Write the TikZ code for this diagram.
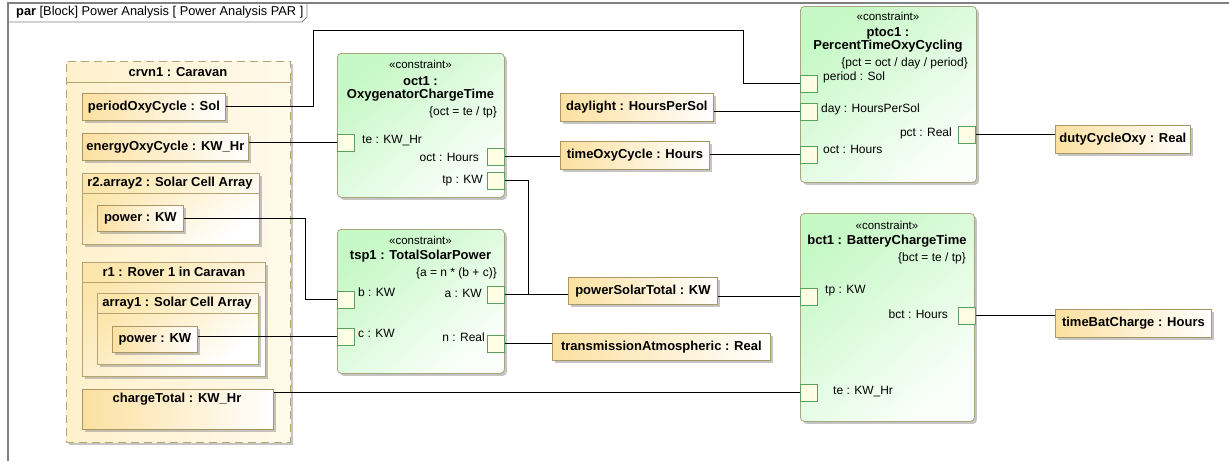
\documentclass[tikz,border=0pt]{standalone}
\usepackage{fontspec}
\setmainfont{Liberation Sans}
\usetikzlibrary{calc}
\usetikzlibrary{shadows}

\definecolor{valfill}{HTML}{FCE0A0}
\definecolor{valline}{HTML}{A89868}
\definecolor{confill}{HTML}{C6F8C6}
\definecolor{conline}{HTML}{A8A47C}
\definecolor{portfill}{HTML}{FFFDE4}
\definecolor{portline}{HTML}{5E9E5E}
\definecolor{partfill}{HTML}{FCE6AC}
\definecolor{caravanfill}{HTML}{FFF1CC}
\definecolor{partline}{HTML}{B4A474}
\definecolor{framegray}{HTML}{808080}

\begin{document}
\begin{tikzpicture}[x=1pt,y=-1pt,
    wire/.style={black,line width=0.9pt},
    plain/.style={font=\fontsize{12}{14}\selectfont,inner sep=0pt},
    bold/.style={font=\fontsize{13}{15}\selectfont\bfseries,inner sep=0pt},
    stereo/.style={font=\fontsize{11.5}{13}\selectfont,inner sep=0pt},
    shade/.style={drop shadow={shadow xshift=2.5pt,shadow yshift=-2.5pt,fill=black!45,opacity=0.5}},
    valbox/.style={shade,draw=valline,line width=0.8pt,left color=valfill,right color=white,
        anchor=north west,inner sep=0pt,font=\fontsize{13}{15}\selectfont\bfseries},
    partbox/.style={shade,draw=partline,line width=0.8pt,top color=partfill,bottom color=white,
        shading angle=40,anchor=north west,inner sep=0pt},
    conblock/.style={shade,draw=conline,line width=0.8pt,rounded corners=4pt,
        top color=confill,bottom color=white!92!confill,shading angle=40,
        anchor=north west,inner sep=0pt},
    port/.style={draw=portline,fill=portfill,line width=0.8pt,anchor=north west,
        minimum size=17pt,inner sep=0pt},
]
\useasboundingbox (0,0) rectangle (1229,461);

\newcommand{\portbox}[3]{
    \node[port] (#1) at (#2,#3) {};
}

\newcommand{\portlabel}[5]{
    \node[plain,anchor=#2] (#1) at (#3,#4) {#5};
}

% bends of the connectors
\coordinate (pa) at (313,30);
\coordinate (pb) at (743,30);
\coordinate (r2bend) at (305,0);
\coordinate (tpbend) at (528,0);

% diagram frame
\draw[framegray,line width=1.2pt] (8,461) -- (8,3) -- (1229,3);
\draw[framegray,line width=0.9pt] (8,22) -- (302,22) -- (307,17) -- (307,3);
\node[plain,anchor=west,font=\fontsize{12.8}{14}\selectfont] (title) at (16,12.5) {\textbf{par} [Block] Power Analysis [ Power Analysis PAR ]};

% caravan part with its nested parts
\node[shade,draw=partline,line width=0.8pt,dash pattern=on 8pt off 5pt,left color=caravanfill,right color=caravanfill!40,
    anchor=north west,inner sep=0pt,minimum width=224pt,minimum height=381pt] (crvn) at (66,61) {};
\draw[partline,line width=0.8pt] ([yshift=-21pt]crvn.north west) -- ([yshift=-21pt]crvn.north east);
\node[bold] (crvnName) at (178,72) {crvn1 : Caravan};

\node[valbox,minimum width=143pt,minimum height=27pt] (periodOxy) at (82,93) {periodOxyCycle : Sol};
\node[valbox,minimum width=166pt,minimum height=27pt] (energyOxy) at (82,133) {energyOxyCycle : KW\_Hr};

\node[partbox,minimum width=177pt,minimum height=71pt] (r2) at (82,173) {};
\draw[partline,line width=0.8pt] ([yshift=-20pt]r2.north west) -- ([yshift=-20pt]r2.north east);
\node[bold] (r2Name) at (170,183) {r2.array2 : Solar Cell Array};
\node[valbox,minimum width=86pt,minimum height=26pt] (powerR2) at (97,205) {power : KW};

\node[partbox,minimum width=183pt,minimum height=114pt] (r1) at (82,262) {};
\draw[partline,line width=0.8pt] ([yshift=-20pt]r1.north west) -- ([yshift=-20pt]r1.north east);
\node[bold] (r1Name) at (174,271.5) {r1 : Rover 1 in Caravan};
\node[partbox,minimum width=161pt,minimum height=71pt] (array1) at (97,293) {};
\draw[partline,line width=0.8pt] ([yshift=-20pt]array1.north west) -- ([yshift=-20pt]array1.north east);
\node[bold] (array1Name) at (177,303) {array1 : Solar Cell Array};
\node[valbox,minimum width=85pt,minimum height=26pt] (powerR1) at (112,326) {power : KW};

\node[valbox,minimum width=191pt,minimum height=40pt] (chargeTotal) at (82,389) {};
\node[bold] (chargeTotalName) at (177,399.5) {chargeTotal : KW\_Hr};

% constraint oct1
\node[conblock,minimum width=167pt,minimum height=144pt] (oct) at (337,53) {};
\node[stereo] (octSt) at (420.5,64) {«constraint»};
\node[bold] (octName) at (420.5,81.5) {oct1 :};
\node[bold] (octType) at (420.5,95) {OxygenatorChargeTime};
\node[plain,anchor=east] (octEq) at (497,112) {\{oct = te / tp\}};
\portbox{octTe}{337}{134}
\portbox{octOct}{487}{148}
\portbox{octTp}{487}{172}
\portlabel{octTeL}{west}{362}{141}{te : KW\_Hr}
\portlabel{octOctL}{east}{479}{157}{oct : Hours}
\portlabel{octTpL}{east}{483}{181}{tp : KW}

% constraint tsp1
\node[conblock,minimum width=167pt,minimum height=144pt] (tsp) at (337,229) {};
\node[stereo] (tspSt) at (420.5,240) {«constraint»};
\node[bold] (tspName) at (420.5,256) {tsp1 : TotalSolarPower};
\node[plain,anchor=east] (tspEq) at (497,273) {\{a = n * (b + c)\}};
\portbox{tspB}{337}{291}
\portbox{tspC}{337}{328}
\portbox{tspA}{487}{286}
\portbox{tspN}{487}{335}
\portlabel{tspBL}{west}{358}{292}{b : KW}
\portlabel{tspCL}{west}{358}{333}{c : KW}
\portlabel{tspAL}{east}{482}{293}{a : KW}
\portlabel{tspNL}{east}{485}{337}{n : Real}

% constraint ptoc1
\node[conblock,minimum width=176pt,minimum height=176pt] (ptoc) at (800,6) {};
\node[stereo] (ptocSt) at (888,16) {«constraint»};
\node[bold] (ptocName) at (888,33) {ptoc1 :};
\node[bold] (ptocType) at (888,46.5) {PercentTimeOxyCycling};
\node[plain,anchor=east] (ptocEq) at (968,63) {\{pct = oct / day / period\}};
\portbox{ptocPeriod}{800}{75}
\portbox{ptocDay}{800}{103}
\portbox{ptocOct}{800}{146}
\portbox{ptocPct}{958}{126}
\portlabel{ptocPeriodL}{west}{823}{77}{period : Sol}
\portlabel{ptocDayL}{west}{821}{109}{day : HoursPerSol}
\portlabel{ptocOctL}{west}{823}{149}{oct : Hours}
\portlabel{ptocPctL}{east}{952}{133}{pct : Real}

% constraint bct1
\node[conblock,minimum width=174pt,minimum height=208pt] (bct) at (800,213) {};
\node[stereo] (bctSt) at (887,225) {«constraint»};
\node[bold] (bctName) at (887,241) {bct1 : BatteryChargeTime};
\node[plain,anchor=east] (bctEq) at (966,258) {\{bct = te / tp\}};
\portbox{bctTp}{800}{288}
\portbox{bctBct}{958}{307}
\portbox{bctTe}{800}{384}
\portlabel{bctTpL}{west}{825}{291}{tp : KW}
\portlabel{bctBctL}{east}{948}{314}{bct : Hours}
\portlabel{bctTeL}{west}{833}{392}{te : KW\_Hr}

% free value properties
\node[valbox,minimum width=153pt,minimum height=28pt] (daylight) at (560,93) {daylight : HoursPerSol};
\node[valbox,minimum width=149pt,minimum height=28pt] (timeOxy) at (560,141) {timeOxyCycle : Hours};
\node[valbox,minimum width=149pt,minimum height=27pt] (powerSolar) at (568,277) {powerSolarTotal : KW};
\node[valbox,minimum width=218pt,minimum height=27pt] (transAtm) at (552,333) {transmissionAtmospheric : Real};
\node[valbox,minimum width=135pt,minimum height=28pt] (dutyCycle) at (1055,125) {dutyCycleOxy : Real};
\node[valbox,minimum width=156pt,minimum height=28pt] (timeBat) at (1055,309) {timeBatCharge : Hours};

% binding connectors
\draw[wire] (periodOxy.east) -| (pa) -- (pb) |- (ptocPeriod.west);
\draw[wire] (energyOxy.east |- octTe.west) -- (octTe.west);
\draw[wire] (powerR2.east) -| (r2bend |- tspB.west) -- (tspB.west);
\draw[wire] (powerR1.east |- tspC.west) -- (tspC.west);
\draw[wire] (chargeTotal.east |- bctTe.west) -- (bctTe.west);
\draw[wire] (octOct.east) -- (timeOxy.west |- octOct.east);
\draw[wire] (timeOxy.east |- ptocOct.west) -- (ptocOct.west);
\draw[wire] (daylight.east |- ptocDay.west) -- (ptocDay.west);
\draw[wire] (octTp.east) -| (tpbend |- tspA.east);
\draw[wire] (tspA.east) -- (powerSolar.west |- tspA.east);
\draw[wire] (powerSolar.east |- bctTp.west) -- (bctTp.west);
\draw[wire] (tspN.east) -- (transAtm.west |- tspN.east);
\draw[wire] (ptocPct.east) -- (dutyCycle.west |- ptocPct.east);
\draw[wire] (bctBct.east) -- (timeBat.west |- bctBct.east);
\end{tikzpicture}
\end{document}
